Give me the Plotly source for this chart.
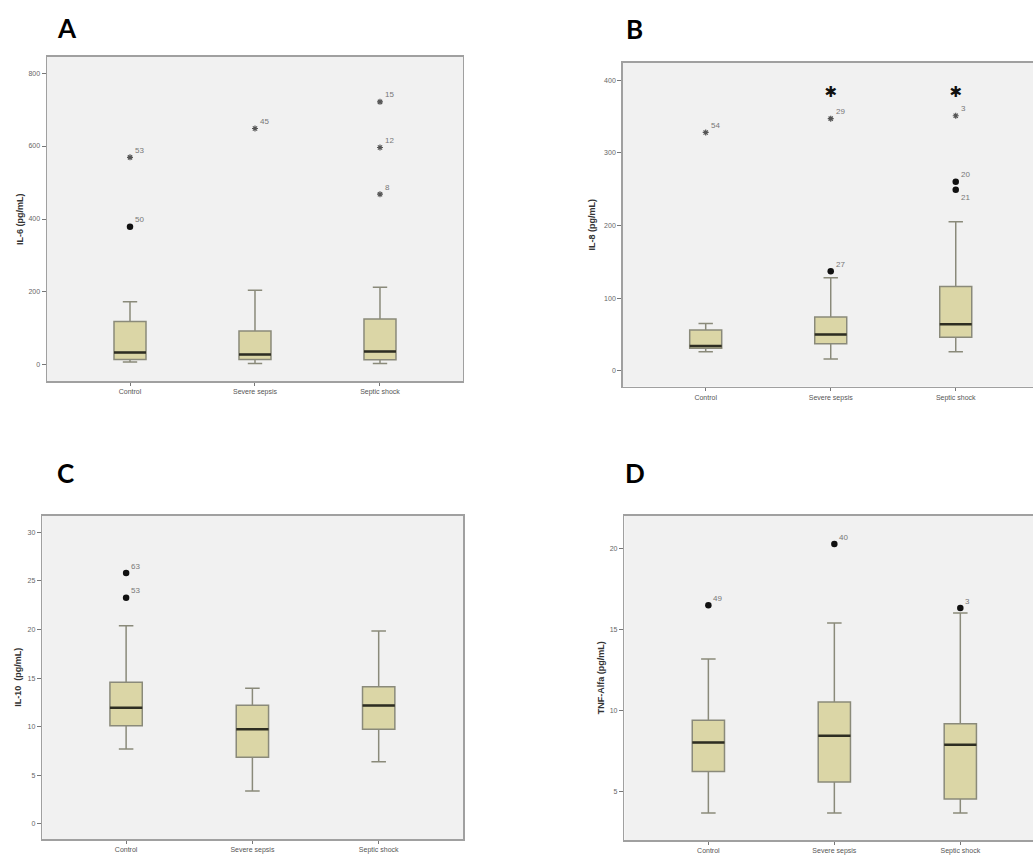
import plotly.graph_objects as go

categories = ["Control", "Severe sepsis", "Septic shock"]
positions = [0, 1, 2]

# Panel A: IL-6
a_q1 = [15, 15, 14]
a_median = [34, 29, 37]
a_q3 = [119, 93, 126]
a_low = [8, 4, 4]
a_high = [173, 205, 213]
a_out_x = [0, 0, 1, 2, 2, 2]
a_out_y = [379, 569, 648, 721, 596, 468]
a_out_kind = ["circle", "star", "star", "star", "star", "star"]
a_out_label = ["50", "53", "45", "15", "12", "8"]

# Panel B: IL-8
b_q1 = [31, 37, 46]
b_median = [34, 50, 64]
b_q3 = [56, 74, 116]
b_low = [26, 16, 26]
b_high = [65, 128, 205]
b_out_x = [0, 1, 1, 2, 2, 2]
b_out_y = [328, 137, 347, 260, 249, 351]
b_out_kind = ["star", "circle", "star", "circle", "circle", "star"]
b_out_label = ["54", "27", "29", "20", "21", "3"]
b_sig_x = [1, 2]
b_sig_y = [382, 382]

# Panel C: IL-10
c_q1 = [10.1, 6.86, 9.74]
c_median = [11.96, 9.74, 12.17]
c_q3 = [14.57, 12.2, 14.12]
c_low = [7.7, 3.4, 6.41]
c_high = [20.37, 13.96, 19.85]
c_out_x = [0, 0]
c_out_y = [25.8, 23.25]
c_out_kind = ["circle", "circle"]
c_out_label = ["63", "53"]

# Panel D: TNF-Alfa
d_q1 = [6.23, 5.58, 4.53]
d_median = [8.02, 8.43, 7.88]
d_q3 = [9.38, 10.51, 9.17]
d_low = [3.67, 3.67, 3.67]
d_high = [13.16, 15.38, 16.0]
d_out_x = [0, 1, 2]
d_out_y = [16.47, 20.25, 16.3]
d_out_kind = ["circle", "circle", "circle"]
d_out_label = ["49", "40", "3"]

panels = [
    dict(name="A", title="IL-6 (pg/mL)", q1=a_q1, med=a_median, q3=a_q3, lo=a_low, hi=a_high,
         ox=a_out_x, oy=a_out_y, ok=a_out_kind, ol=a_out_label,
         yrange=[-44, 844], ticks=[0, 200, 400, 600, 800], xrange=[-0.664, 2.664],
         xdom=[0.0455, 0.4482], ydom=[0.5554, 0.9335], full=True,
         letter_x=55, letter_y=46, title_shift=-27),
    dict(name="B", title="IL-8 (pg/mL)", q1=b_q1, med=b_median, q3=b_q3, lo=b_low, hi=b_high,
         ox=b_out_x, oy=b_out_y, ok=b_out_kind, ol=b_out_label,
         yrange=[-22, 424], ticks=[0, 100, 200, 300, 400], xrange=[-0.664, 2.618],
         xdom=[0.6028, 1.0], ydom=[0.5488, 0.9268], full=False,
         letter_x=624, letter_y=47, title_shift=-31),
    dict(name="C", title="IL-10  (pg/mL)", q1=c_q1, med=c_median, q3=c_q3, lo=c_low, hi=c_high,
         ox=c_out_x, oy=c_out_y, ok=c_out_kind, ol=c_out_label,
         yrange=[-1.57, 31.7], ticks=[0, 5, 10, 15, 20, 25, 30], xrange=[-0.664, 2.67],
         xdom=[0.0409, 0.4485], ydom=[0.0207, 0.3983], full=True,
         letter_x=55, letter_y=491, title_shift=-24),
    dict(name="D", title="TNF-Alfa (pg/mL)", q1=d_q1, med=d_median, q3=d_q3, lo=d_low, hi=d_high,
         ox=d_out_x, oy=d_out_y, ok=d_out_kind, ol=d_out_label,
         yrange=[2.0, 22.0], ticks=[5, 10, 15, 20], xrange=[-0.667, 2.577],
         xdom=[0.6044, 1.0], ydom=[0.0198, 0.3983], full=False,
         letter_x=623, letter_y=491, title_shift=-24),
]

box_w = 0.256
fill = "#dbd6a6"
edge = "#8a8a7a"
frame = "#a0a0a0"
W, H = 1033, 857

fig = go.Figure()
layout = dict(width=W, height=H, margin=dict(l=0, r=0, t=0, b=0), template="none",
              paper_bgcolor="white", plot_bgcolor="#f1f1f1", showlegend=False, annotations=[])

for i, p in enumerate(panels):
    n = "" if i == 0 else str(i + 1)
    xa, ya = "x" + n, "y" + n
    fig.add_trace(go.Box(
        x=positions, q1=p["q1"], median=p["med"], q3=p["q3"],
        lowerfence=p["lo"], upperfence=p["hi"],
        width=box_w, whiskerwidth=0.45, fillcolor=fill,
        line=dict(color=edge, width=1.5), boxpoints=False,
        xaxis=xa, yaxis=ya, hoverinfo="skip"))
    # thick median lines
    mx, my = [], []
    for xi, m in zip(positions, p["med"]):
        mx += [xi - box_w / 2, xi + box_w / 2, None]
        my += [m, m, None]
    fig.add_trace(go.Scatter(x=mx, y=my, mode="lines", line=dict(color="#2e2e22", width=2.5),
                             xaxis=xa, yaxis=ya, hoverinfo="skip"))
    # outliers
    cx = [x for x, k in zip(p["ox"], p["ok"]) if k == "circle"]
    cy = [y for y, k in zip(p["oy"], p["ok"]) if k == "circle"]
    sx = [x for x, k in zip(p["ox"], p["ok"]) if k == "star"]
    sy = [y for y, k in zip(p["oy"], p["ok"]) if k == "star"]
    if cx:
        fig.add_trace(go.Scatter(x=cx, y=cy, mode="markers",
                                 marker=dict(symbol="circle", size=6.5, color="#111111"),
                                 xaxis=xa, yaxis=ya, hoverinfo="skip"))
    if sx:
        fig.add_trace(go.Scatter(x=sx, y=sy, mode="markers",
                                 marker=dict(symbol="asterisk-open", size=5, color="#555555",
                                             line=dict(color="#555555", width=1.2)),
                                 xaxis=xa, yaxis=ya, hoverinfo="skip"))
    # outlier labels
    for x, y, lab in zip(p["ox"], p["oy"], p["ol"]):
        shift_y = 7
        if p["name"] == "B" and lab == "21":
            shift_y = -8
        layout["annotations"].append(dict(
            x=x, y=y, xref=xa, yref=ya, text=lab, showarrow=False,
            xanchor="left", yanchor="middle", xshift=3, yshift=shift_y,
            font=dict(family="Arial, Liberation Sans, sans-serif", size=8, color="#777777")))
    # axis title
    layout["annotations"].append(dict(
        x=p["xdom"][0], y=(p["ydom"][0] + p["ydom"][1]) / 2, xref="paper", yref="paper",
        text="<b>" + p["title"] + "</b>", textangle=-90, showarrow=False,
        xanchor="center", yanchor="middle", xshift=p["title_shift"],
        font=dict(family="Arial, Liberation Sans, sans-serif", size=9, color="#333333")))
    # panel letter
    layout["annotations"].append(dict(
        x=p["letter_x"] / W, y=1 - p["letter_y"] / H, xref="paper", yref="paper",
        text="<b>" + p["name"] + "</b>", showarrow=False, xanchor="left", yanchor="bottom",
        font=dict(family="Lato, Noto Sans, sans-serif", size=26, color="black")))

    xkey = "xaxis" + n
    ykey = "yaxis" + n
    layout[xkey] = dict(domain=p["xdom"], anchor=ya, range=p["xrange"], tickmode="array",
                        tickvals=positions, ticktext=categories, showgrid=False, zeroline=False,
                        showline=True, linecolor=frame, linewidth=1.5, mirror=True,
                        ticks="outside", ticklen=3, tickcolor="#777777",
                        tickfont=dict(family="Arial, Liberation Sans, sans-serif", size=7, color="#555555"))
    layout[ykey] = dict(domain=p["ydom"], anchor=xa, range=p["yrange"], tickmode="array",
                        tickvals=p["ticks"], showgrid=False, zeroline=False,
                        showline=True, linecolor=frame, linewidth=1.5, mirror=p["full"],
                        ticks="outside", ticklen=4, tickcolor="#777777",
                        tickfont=dict(family="Arial, Liberation Sans, sans-serif", size=7, color="#666666"))

# significance asterisks in panel B
fig.add_trace(go.Scatter(x=b_sig_x, y=b_sig_y, mode="text", text=["✱", "✱"],
                         textfont=dict(family="DejaVu Sans", size=15, color="#111111"),
                         xaxis="x2", yaxis="y2", hoverinfo="skip"))

fig.update_layout(**layout)
fig.write_html("out.html", config={"displayModeBar": False, "staticPlot": True},
               post_script="document.body.style.margin='0';document.body.style.overflow='hidden';")
